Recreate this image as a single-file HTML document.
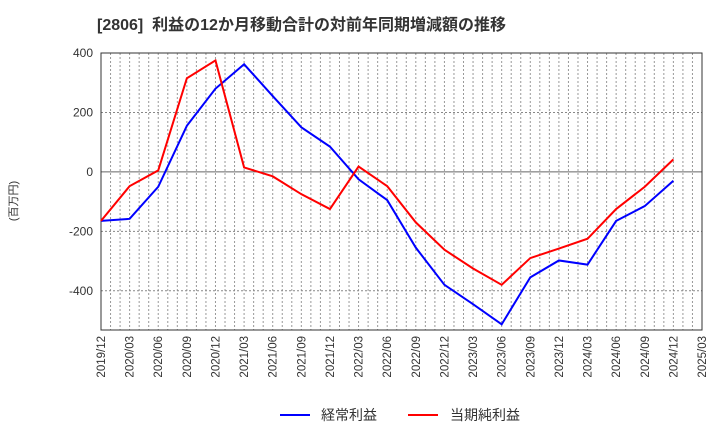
<!DOCTYPE html>
<html><head><meta charset="utf-8"><style>
body{margin:0;background:#fff;width:720px;height:440px;overflow:hidden;font-family:"Liberation Sans","Noto Sans CJK JP",sans-serif}
</style></head><body>
<svg id="chart" width="720" height="440" xmlns="http://www.w3.org/2000/svg" font-family="Liberation Sans, Noto Sans CJK JP, sans-serif">
<text x="97" y="30" font-size="16" font-weight="bold" fill="#333" xml:space="preserve">[2806]  利益の12か月移動合計の対前年同期増減額の推移</text>
<text transform="translate(17,201) rotate(-90)" font-size="11" fill="#333" text-anchor="middle">(百万円)</text>
<g id="grid"></g><g id="axes"></g><g id="series"></g>
<g>
<line x1="280" y1="415" x2="310" y2="415" stroke="#0000ff" stroke-width="2"/>
<text x="321" y="420" font-size="14" fill="#333">経常利益</text>
<line x1="408" y1="415" x2="438" y2="415" stroke="#ff0000" stroke-width="2"/>
<text x="450" y="420" font-size="14" fill="#333">当期純利益</text>
</g>
</svg>
<script>
const categories=["2019/12","2020/03","2020/06","2020/09","2020/12","2021/03","2021/06","2021/09","2021/12","2022/03","2022/06","2022/09","2022/12","2023/03","2023/06","2023/09","2023/12","2024/03","2024/06","2024/09","2024/12"];
const xTickLabels=["2019/12","2020/03","2020/06","2020/09","2020/12","2021/03","2021/06","2021/09","2021/12","2022/03","2022/06","2022/09","2022/12","2023/03","2023/06","2023/09","2023/12","2024/03","2024/06","2024/09","2024/12","2025/03"];
const yTicks=[400,200,0,-200,-400];
const ordinaryProfit=[-165,-158,-50,155,280,362,255,150,85,-25,-95,-255,-380,-445,-513,-355,-298,-312,-165,-115,-30];
const netProfit=[-165,-48,5,315,375,15,-15,-75,-125,18,-48,-170,-262,-325,-380,-290,-258,-225,-125,-50,42];
const L=101,R=702,T=53,B=330,ymax=400,ymin=-532;
const NS="http://www.w3.org/2000/svg";
function x(i){return L+(R-L)*i/21;}
function y(v){return T+(ymax-v)/(ymax-ymin)*(B-T);}
function el(t,a,p){const e=document.createElementNS(NS,t);for(const k in a)e.setAttribute(k,a[k]);p.appendChild(e);return e;}
const grid=document.getElementById('grid'),axes=document.getElementById('axes'),series=document.getElementById('series');
for(let m=1;m<63;m++){const gx=L+(R-L)*m/63;const l=el('line',{x1:gx,x2:gx,y1:T,y2:B,stroke:'#999','stroke-dasharray':'2,2','stroke-width':1},grid);

}
yTicks.forEach(v=>{const l=el('line',{x1:L,x2:R,y1:y(v),y2:y(v),stroke:v===0?'#666':'#888','stroke-dasharray':v===0?'':'2,2','stroke-width':1},grid);


const t=el('text',{x:L-8,y:y(v)+4,'font-size':12,fill:'#333','text-anchor':'end'},axes);t.textContent=v;

});
const frame=el('rect',{x:L,y:T,width:R-L,height:B-T,fill:'none',stroke:'#333','stroke-width':1},axes);


xTickLabels.forEach((s,i)=>{const t=el('text',{transform:`translate(${x(i)+4},${B+6}) rotate(-90)`,'font-size':11.5,fill:'#333','text-anchor':'end'},axes);t.textContent=s;

});
function line(d,c,n){const p=el('polyline',{points:d.map((v,i)=>x(i)+','+y(v)).join(' '),fill:'none',stroke:c,'stroke-width':2,'stroke-linejoin':'miter'},series);

}
line(ordinaryProfit,'#0000ff','ordinary-profit-line');
line(netProfit,'#ff0000','net-profit-line');
</script>
</body></html>
